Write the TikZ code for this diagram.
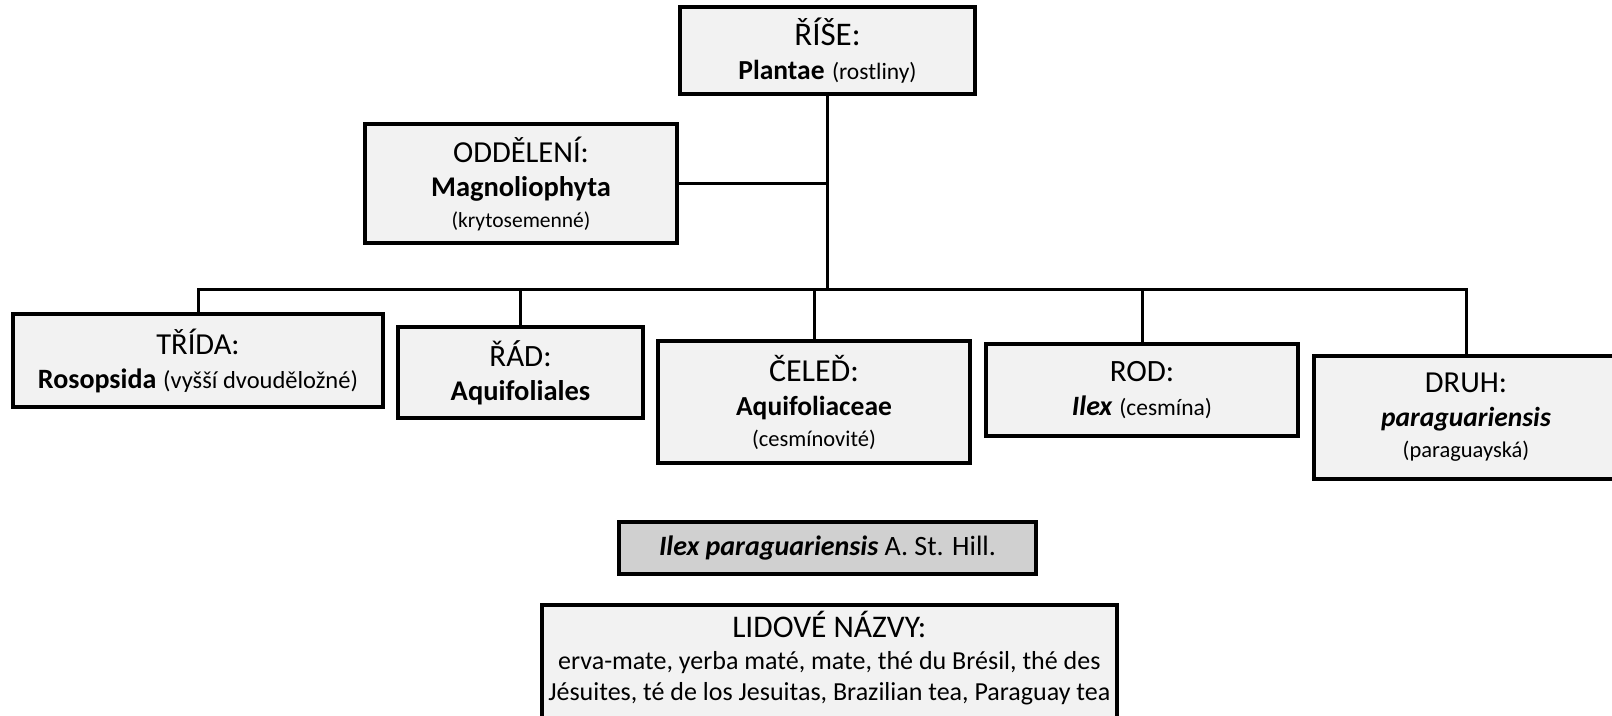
\documentclass[tikz,border=0pt]{standalone}
\usepackage{fontspec}
\setmainfont{Carlito}
\newcommand\Fs[1]{\fontsize{#1}{34}\selectfont}
\definecolor{boxfill}{HTML}{F2F2F2}
\definecolor{darkfill}{HTML}{D0D0D0}
\tikzset{
  x=1pt, y=-1pt,
  taxbox/.style={draw=black, line width=3.5pt, fill=boxfill, rectangle, inner sep=0pt,
     align=center, font=\Fs{31}},
  conn/.style={draw=black, line width=3pt},
}
\begin{document}
\begin{tikzpicture}
\useasboundingbox (0,0) rectangle (1612,715);
\begin{scope}
\clip (0,0) rectangle (1612,715);
% nodes
\node[taxbox, minimum width=295pt, minimum height=87pt, font=\Fs{33}] (rise) at (827.5,50.5)
  {ŘÍŠE:\\{\Fs{27.5}\bfseries Plantae} {\Fs{23.5}(rostliny)}};
\node[taxbox, minimum width=312pt, minimum height=119pt, font=\Fs{30.5}] (odd) at (521,183.5)
  {ODDĚLENÍ:\\{\Fs{28.5}\bfseries Magnoliophyta}\\[-3pt]{\Fs{21.5}(krytosemenné)}};
\node[taxbox, minimum width=370pt, minimum height=93pt, font=\Fs{30.5}] (tri) at (198,360.5)
  {TŘÍDA:\\{\Fs{28}\bfseries Rosopsida} {\Fs{24.5}(vyšší dvouděložné)}};
\node[taxbox, minimum width=245pt, minimum height=91pt] (rad) at (520.5,372.5)
  {ŘÁD:\\{\Fs{28.5}\bfseries Aquifoliales}};
\node[taxbox, minimum width=312pt, minimum height=122pt, font=\Fs{32}] (cel) at (814,402)
  {ČELEĎ:\\{\Fs{27.5}\bfseries Aquifoliaceae}\\[-3pt]{\Fs{22.5}(cesmínovité)}};
\node[taxbox, minimum width=312pt, minimum height=92pt] (rod) at (1142,390)
  {ROD:\\{\Fs{28}\bfseries\itshape Ilex} {\Fs{23.5}(cesmína)}};
\node[taxbox, minimum width=304pt, minimum height=123pt, font=\Fs{30.5}] (druh) at (1466,417.5)
  {DRUH:\\{\Fs{27.5}\bfseries\itshape paraguariensis}\\[-3pt]{\Fs{22.5}(paraguayská)}};
\node[taxbox, fill=darkfill, minimum width=417pt, minimum height=52pt] (ilex) at (827.5,548)
  {\Fs{28}{\bfseries\itshape Ilex paraguariensis} A. St. Hill.};
\node[taxbox, anchor=north west, minimum width=575pt, minimum height=160pt] (lid) at (540,603) {};
\node[anchor=north, align=center, inner sep=0pt, font=\fontsize{31.5}{32}\selectfont] (lidt) at ([yshift=-8pt]lid.north)
  {LIDOVÉ NÁZVY:\\[0pt]{\fontsize{26}{30}\selectfont erva-mate, yerba maté, mate, thé du Brésil, thé des}\\[-1pt]
   {\fontsize{26}{30}\selectfont Jésuites, té de los Jesuitas, Brazilian tea, Paraguay tea}};
% connectors
\coordinate (busL) at (tri.north |- 0,289);
\coordinate (busR) at (druh.north |- 0,289);
\coordinate (busM) at (rise.south |- 0,289);
\draw[conn] (rise.south) -- (busM);
\draw[conn] (odd.east) -- (odd.east -| rise.south);
\draw[conn, line cap=rect] (busL) -- (busR);
\draw[conn] (busL) -- (tri.north);
\draw[conn] (rad.north |- busL) -- (rad.north);
\draw[conn] (cel.north |- busL) -- (cel.north);
\draw[conn] (rod.north |- busL) -- (rod.north);
\draw[conn] (busR) -- (druh.north);
\end{scope}
\end{tikzpicture}
\end{document}
